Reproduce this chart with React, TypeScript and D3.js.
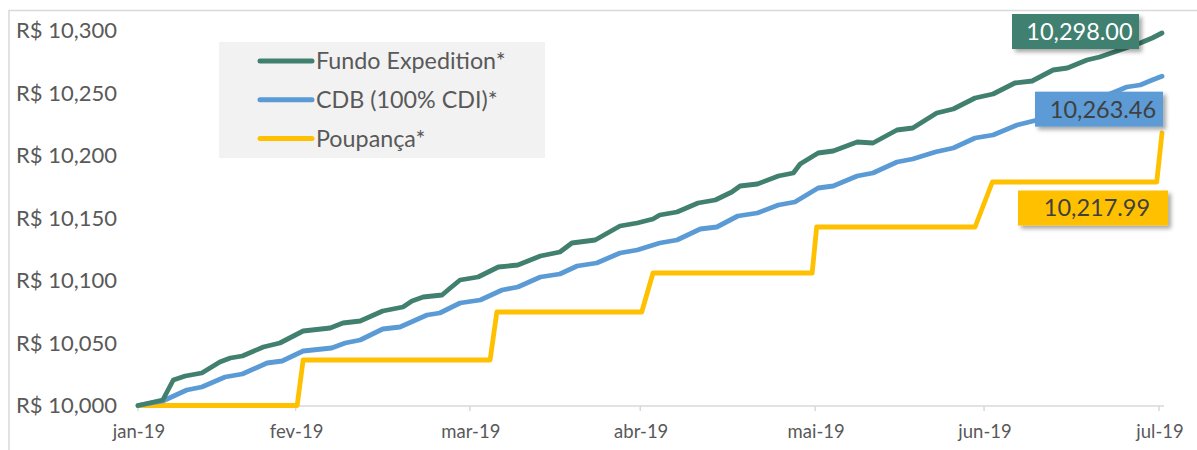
import React from "react";
import * as d3 from "d3";

// ---- data ----
const monthLabels = ["jan-19", "fev-19", "mar-19", "abr-19", "mai-19", "jun-19", "jul-19"];
const monthTickIdx = [0, 21, 44.2, 66.9, 90.2, 112.7, 136];
const yTicks = [10000, 10050, 10100, 10150, 10200, 10250, 10300];

const seriesNames = ["Fundo Expedition*", "CDB (100% CDI)*", "Poupança*"];
const seriesColors = ["#41806f", "#5b9bd5", "#ffc000"];
const finalValues = [10298.0, 10263.46, 10217.99];

const fundoIdx = [0, 3.3, 4.7, 6.3, 8.5, 10.9, 12.3, 13.9, 16.7, 18.9, 22, 25.6, 27.3, 29.6, 32.6, 35.3, 36.5, 38, 40.5, 41.6, 42.9, 45.3, 48, 50.6, 53.6, 56.2, 57.8, 60.9, 64.2, 66.5, 68.6, 69.5, 71.8, 74.6, 76.9, 79.1, 80.2, 82.5, 85.3, 87.3, 88.2, 90.6, 92.6, 95.8, 97.9, 101.1, 103.2, 106.4, 108.6, 111.5, 113.9, 116.8, 119.1, 121.9, 123.8, 126.4, 128.1, 130.8, 133.5, 135.1, 136.4];
const fundoVal = [10000, 10004.4, 10020.4, 10023.6, 10026, 10034.8, 10038, 10039.6, 10046.8, 10050, 10059.6, 10062, 10066, 10067.6, 10075.6, 10078.8, 10083.6, 10086.8, 10088.4, 10094, 10100.4, 10102.8, 10110.8, 10112.4, 10119.6, 10122.8, 10130, 10132.4, 10143.6, 10146, 10149.2, 10152.4, 10154.8, 10162, 10164.4, 10170.8, 10175.6, 10177.2, 10183.6, 10186, 10193.2, 10202, 10203.6, 10210.8, 10210, 10220.4, 10222, 10234, 10237.2, 10246, 10249.2, 10258, 10259.6, 10268.4, 10270, 10276.4, 10278.8, 10284.4, 10290, 10294, 10298];

const cdbIdx = [0, 3.3, 6.5, 8.5, 11.6, 13.9, 17.2, 19.2, 22, 25.8, 27.6, 29.6, 32.6, 34.9, 38.5, 40.2, 42.9, 45.6, 48.5, 50.6, 53.6, 56.2, 58.5, 61.1, 64.2, 66.5, 69.5, 71.8, 74.9, 77.1, 79.9, 82.5, 85.3, 87.5, 90.6, 92.6, 95.8, 97.9, 101.1, 103.2, 106.2, 108.6, 111.5, 113.9, 117.1, 119.8, 122.2, 124.2, 126.4, 128.1, 130.1, 131.7, 133.5, 135.1, 136.4];
const cdbVal = [10000, 10003.6, 10012.4, 10014.8, 10022.8, 10025.2, 10034, 10035.6, 10043.6, 10046, 10050, 10052.4, 10061.2, 10062.8, 10072.4, 10074, 10082, 10084.4, 10092.4, 10094.8, 10102.8, 10105.2, 10111.6, 10114, 10122, 10124.4, 10130, 10132.4, 10141.2, 10142.8, 10151.6, 10154, 10160.4, 10162.8, 10174, 10175.6, 10183.6, 10186, 10194.8, 10197.2, 10202.8, 10206, 10214, 10216.4, 10224.4, 10228.4, 10234.8, 10238, 10242.8, 10246, 10250.8, 10254.8, 10256.4, 10260.4, 10263.46];

const poupIdx = [0, 21.2, 22, 46.9, 47.8, 67.1, 68.6, 89.8, 90.4, 111.5, 113.8, 135.7, 136.4];
const poupVal = [10000, 10000, 10036.4, 10036.4, 10074.8, 10074.8, 10106, 10106, 10142.8, 10142.8, 10178.8, 10178.8, 10217.99];

const FONT = "Lato, 'Open Sans', sans-serif";
const TEXT = "#595959";

export default function App() {
  const W = 1197, H = 450;
  const x = d3.scaleLinear().domain([0, 136]).range([138, 1159]);
  const y = d3.scaleLinear().domain([10000, 10300]).range([405.5, 30.5]);

  const series = [
    { idx: fundoIdx, val: fundoVal },
    { idx: cdbIdx, val: cdbVal },
    { idx: poupIdx, val: poupVal },
  ];
  const line = d3
    .line<[number, number]>()
    .x((d) => x(d[0]))
    .y((d) => y(d[1]));

  const fmt = d3.format(",");
  const fmt2 = d3.format(",.2f");

  // label box layout relative to last point
  const boxes = [
    { dxRight: -23, dyCenter: -1.5, w: 127, fill: seriesColors[0], txt: "#ffffff" },
    { dxRight: 1, dyCenter: 33, w: 128, fill: seriesColors[1], txt: "#404040" },
    { dxRight: 6, dyCenter: 75, w: 150, fill: seriesColors[2], txt: "#404040" },
  ];
  const boxH = 35;

  return (
    <svg
      width={W}
      height={H}
      style={{ position: "absolute", left: 0, top: 0, background: "#fff" }}
      fontFamily={FONT}
    >
      <defs>
        <filter id="sh" x="-20%" y="-30%" width="150%" height="170%">
          <feDropShadow dx="3" dy="3" stdDeviation="2" floodColor="#000" floodOpacity="0.35" />
        </filter>
      </defs>
      <rect x={0} y={0} width={W} height={H} fill="#fff" />
      <rect x={9} y={10.5} width={1300} height={600} fill="none" stroke="#d9d9d9" strokeWidth={1.5} />

      {/* y tick labels */}
      {yTicks.map((t) => (
        <text key={t} x={117} y={y(t)} dy="0.36em" textAnchor="end" fontSize={22} fill={TEXT}>
          {"R$ " + fmt(t)}
        </text>
      ))}

      {/* x axis */}
      <line x1={x(0)} x2={x(136) + 5} y1={406} y2={406} stroke="#d9d9d9" strokeWidth={1.5} />
      {monthTickIdx.map((m, i) => (
        <g key={i}>
          <line x1={x(m)} x2={x(m)} y1={406} y2={411} stroke="#d9d9d9" strokeWidth={1.5} />
          <text x={x(m) + 1} y={432} dy="0.35em" textAnchor="middle" fontSize={18.5} fill={TEXT}>
            {monthLabels[i]}
          </text>
        </g>
      ))}

      {/* legend */}
      <rect x={219} y={42} width={326} height={116} fill="#f2f2f2" />
      {seriesNames.map((n, i) => (
        <g key={n}>
          <line x1={260} x2={312} y1={61 + i * 38.7} y2={61 + i * 38.7} stroke={seriesColors[i]} strokeWidth={5} strokeLinecap="round" />
          <text x={316} y={61 + i * 38.7} dy="0.36em" fontSize={23.3} fill={TEXT}>
            {n}
          </text>
        </g>
      ))}

      {/* lines: draw yellow first, then blue, then green */}
      {[2, 1, 0].map((si) => {
        const s = series[si];
        const pts: [number, number][] = s.idx.map((d, k) => [d, s.val[k]]);
        return (
          <path
            key={si}
            d={line(pts) || ""}
            fill="none"
            stroke={seriesColors[si]}
            strokeWidth={4.8}
            strokeLinejoin="round"
            strokeLinecap="round"
          />
        );
      })}

      {/* value labels */}
      {series.map((s, si) => {
        const li = s.idx.length - 1;
        const px = x(s.idx[li]);
        const py = y(s.val[li]);
        const b = boxes[si];
        const bx = px + b.dxRight - b.w;
        const cy = py + b.dyCenter;
        return (
          <g key={"lab" + si}>
            <rect x={bx} y={cy - boxH / 2} width={b.w} height={boxH} fill={b.fill} filter="url(#sh)" />
            <text x={bx + b.w / 2 + 4} y={cy} dy="0.36em" textAnchor="middle" fontSize={23.5} fill={b.txt}>
              {fmt2(finalValues[si])}
            </text>
          </g>
        );
      })}
    </svg>
  );
}
